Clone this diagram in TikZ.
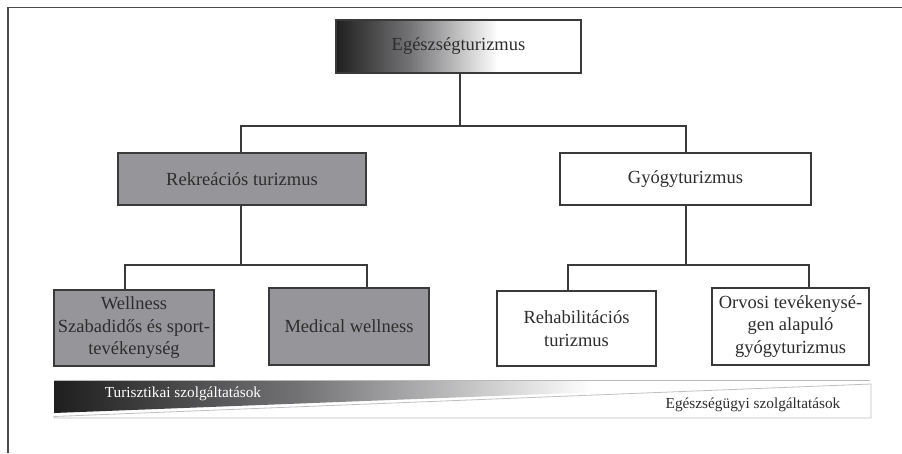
\documentclass[tikz,border=0pt]{standalone}
\usepackage{fontspec}
\setmainfont{Liberation Serif}
\usetikzlibrary{backgrounds,calc}
\definecolor{boxgray}{RGB}{150,150,154}
\definecolor{linec}{RGB}{58,58,58}
\definecolor{txt}{RGB}{45,45,45}
\definecolor{framec}{RGB}{75,75,75}
\pgfdeclarehorizontalshading{fadeshade}{100bp}{rgb(0bp)=(0.12,0.12,0.12); rgb(25bp)=(0.12,0.12,0.12); rgb(40bp)=(0.45,0.45,0.46); rgb(58bp)=(1,1,1); rgb(100bp)=(1,1,1)}
\tikzset{
  box/.style={draw=linec, line width=1.2pt, text=txt, align=center, inner sep=0pt,
    font=\fontsize{18.5}{22.5}\selectfont},
  graybox/.style={box, fill=boxgray},
  whitebox/.style={box, fill=white},
  conn/.style={draw=linec, line width=1.2pt},
  bandtext/.style={inner sep=0pt, font=\fontsize{15.3}{18}\selectfont}
}
\begin{document}
\begin{tikzpicture}[x=1pt,y=-1pt]
\useasboundingbox (0,0) rectangle (902,453);
% outer frame
\coordinate (fc) at (8,7.5);
\draw[framec, line width=1.6pt] (902,7.5) -- (fc) -- (8,453);

% boxes
\node[box, minimum width=245pt, minimum height=53pt] (top) at (458.5,46.5) {Egészségturizmus};
\begin{scope}[on background layer]
  \shade[shading=fadeshade] (top.south west) rectangle (top.north east);
\end{scope}
\node[graybox, minimum width=248pt, minimum height=52pt] (rek) at (242,179) {Rekreációs turizmus};
\node[whitebox, minimum width=251pt, minimum height=52pt] (gyo) at (685.5,179) {Gyógyturizmus};
\node[graybox, minimum width=160pt, minimum height=76pt] (well) at (134,328) {Wellness\\Szabadidős és sport-\\tevékenység};
\node[graybox, minimum width=160pt, minimum height=77pt] (med) at (349,326.5) {Medical wellness};
\node[whitebox, minimum width=159pt, minimum height=75pt] (rehab) at (576.5,328.5) {Rehabilitációs\\turizmus};
\node[whitebox, minimum width=157pt, minimum height=77pt] (orv) at (790.5,326.5) {Orvosi tevékenysé-\\gen alapuló\\gyógyturizmus};

% connectors level 1
\coordinate (j) at (460,126);
\coordinate (jL) at (241,126);
\coordinate (jR) at (686,126);
\draw[conn] (j |- top.south) -- (j);
\draw[conn] (jL |- rek.north) -- (jL) -- (jR) -- (jR |- gyo.north);
% connectors level 2 left
\coordinate (k) at (241,265);
\coordinate (kL) at (125,265);
\coordinate (kR) at (367,265);
\draw[conn] (k |- rek.south) -- (k);
\draw[conn] (kL |- well.north) -- (kL) -- (kR) -- (kR |- med.north);
% connectors level 2 right
\coordinate (m) at (686,265);
\coordinate (mL) at (568,265);
\coordinate (mR) at (809,265);
\draw[conn] (m |- gyo.south) -- (m);
\draw[conn] (mL |- rehab.north) -- (mL) -- (mR) -- (mR |- orv.north);

% bottom band
\shade[shading=fadeshade] (54,380) -- (870,380) -- (870,381.5) -- (54,413) -- cycle;
\draw[gray!55, line width=0.5pt] (54,380) -- (870,380);
\filldraw[draw=gray!50, fill=white, line width=0.8pt] (54,416.5) -- (871,384) -- (871,418) -- (54,418) -- cycle;
\node[bandtext, text=white] (tur) at (183,394) {Turisztikai szolgáltatások};
\node[bandtext, text=txt] (egs) at (753,405) {Egészségügyi szolgáltatások};
\end{tikzpicture}
\end{document}
